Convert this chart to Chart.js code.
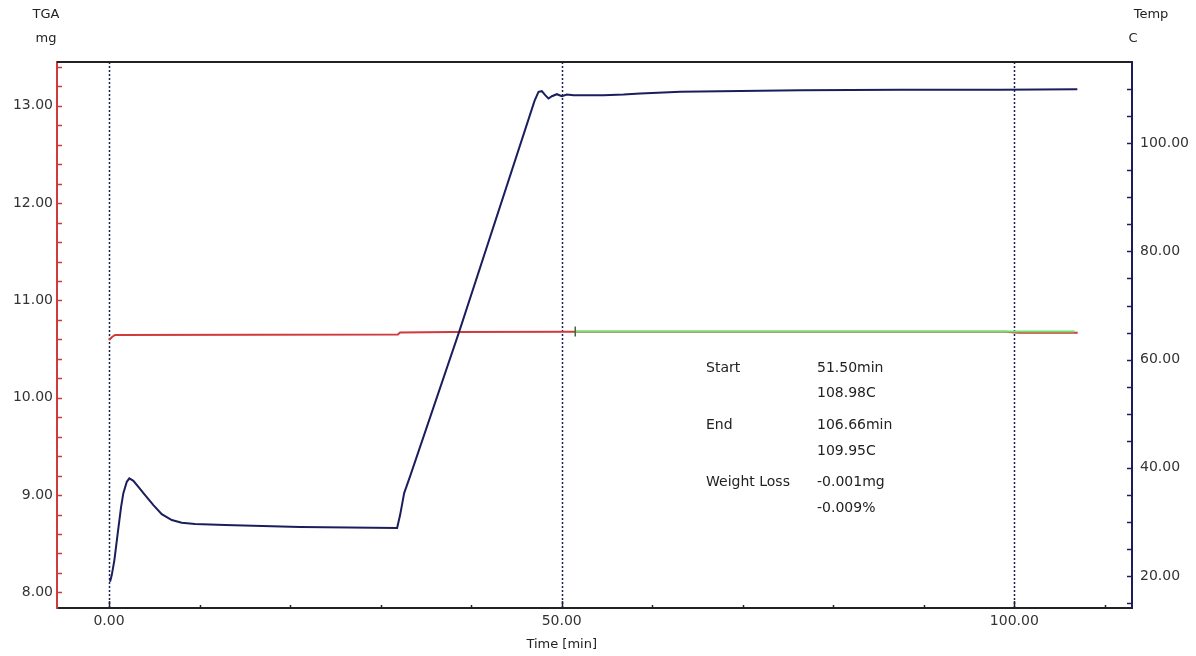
<!DOCTYPE html>
<html lang="en">
<head>
<meta charset="UTF-8">
<title>TGA / Temp vs Time</title>
<script src="https://cdn.jsdelivr.net/npm/chart.js"></script>
<style>
  html, body { margin: 0; padding: 0; background: #fff; }
  #wrap { width: 1196px; height: 656px; }
</style>
</head>
<body>
<div id="wrap"><canvas id="myChart"></canvas></div>
<script>
// Temperature trace, right axis (C)
const tempTime = [0.11, 0.30, 0.59, 0.96, 1.33, 1.58, 1.96, 2.24, 2.69, 3.24, 3.98, 4.90, 5.82, 6.93, 8.03, 9.50, 12.82, 21.1,
                  31.82, 32.15, 32.60, 33.26, 38.67, 47.0, 47.44, 47.81, 48.18, 48.54, 48.92, 49.47,
                  50.02, 50.57, 51.30, 54.62, 56.83, 58.67, 61.25, 63.09, 76.4, 87.4, 98.45, 106.96];
const tempC    = [18.95, 20.18, 22.96, 27.94, 32.80, 35.33, 37.42, 38.05, 37.61, 36.50, 34.97, 33.12, 31.45, 30.35, 29.85, 29.61, 29.42, 29.05,
                  28.87, 31.27, 35.33, 38.48, 65.14, 107.8, 109.48, 109.61, 108.87, 108.26, 108.68, 109.05,
                  108.68, 109.00, 108.87, 108.87, 109.00, 109.18, 109.37, 109.48, 109.79, 109.88, 109.88, 109.98];

// TGA weight trace, left axis (mg)
const tgaTime = [0.0, 0.33, 0.66, 31.9, 32.15, 37.9, 51.5, 99.0, 100.5, 107.0];
const tgaMg   = [10.594, 10.625, 10.645, 10.651, 10.671, 10.676, 10.679, 10.679, 10.667, 10.667];

// evaluated range (green)
const rangeTime = [51.50, 106.66];
const rangeMg   = [10.681, 10.680];

// axes
const xMajor = [0, 50, 100];
const mgMajor = [8, 9, 10, 11, 12, 13];
const tempMajor = [20, 40, 60, 80, 100];
const markerTimes = [0, 50, 100];
const xTitle = 'Time [min]';

// result box
const infoLabels = ['Start', '', 'End', '', 'Weight Loss', ''];
const infoValues = ['51.50min', '108.98C', '106.66min', '109.95C', '-0.001mg', '-0.009%'];

const NAVY = '#1b1e5c';
const RED = '#d03a3a';
const GREEN = '#6ee26e';
const FONT = 'DejaVu Sans';

function toPoints(xs, ys) {
    return xs.map((x, i) => ({ x: x, y: ys[i] }));
}

function stepTicks(from, to, step) {
    const out = [];
    const n = Math.round((to - from) / step);
    for (let i = 0; i <= n; i++) out.push({ value: +(from + i * step).toFixed(4) });
    return out;
}

function isMajor(v, list) {
    return list.some(m => Math.abs(m - v) < 1e-6);
}

// frame, inward tick marks, guide lines and texts
const framePlugin = {
    id: 'frame',
    beforeDatasetsDraw(chart) {
        const ctx = chart.ctx;
        const a = chart.chartArea;
        const xs = chart.scales.x;
        ctx.save();
        ctx.strokeStyle = NAVY;
        ctx.lineWidth = 1.5;
        ctx.setLineDash([2, 2]);
        markerTimes.forEach(t => {
            const px = Math.round(xs.getPixelForValue(t)) + 0.5;
            ctx.beginPath();
            ctx.moveTo(px, a.top);
            ctx.lineTo(px, a.bottom);
            ctx.stroke();
        });
        ctx.restore();
    },
    afterDraw(chart) {
        const ctx = chart.ctx;
        const a = chart.chartArea;
        const xs = chart.scales.x, yl = chart.scales.yMg, yr = chart.scales.yTemp;
        ctx.save();

        // top border
        ctx.strokeStyle = '#222';
        ctx.lineWidth = 2;
        ctx.beginPath();
        ctx.moveTo(a.left, a.top);
        ctx.lineTo(a.right, a.top);
        ctx.stroke();

        // inward ticks
        ctx.lineWidth = 1.5;
        ctx.strokeStyle = RED;
        yl.ticks.forEach(t => {
            const py = Math.round(yl.getPixelForValue(t.value)) + 0.5;
            ctx.beginPath();
            ctx.moveTo(a.left, py);
            ctx.lineTo(a.left + 5, py);
            ctx.stroke();
        });
        ctx.strokeStyle = NAVY;
        yr.ticks.forEach(t => {
            const py = Math.round(yr.getPixelForValue(t.value)) + 0.5;
            ctx.beginPath();
            ctx.moveTo(a.right - 5, py);
            ctx.lineTo(a.right, py);
            ctx.stroke();
        });
        ctx.strokeStyle = '#222';
        xs.ticks.forEach(t => {
            const px = Math.round(xs.getPixelForValue(t.value)) + 0.5;
            const len = isMajor(t.value, xMajor) ? 7 : 3;
            ctx.beginPath();
            ctx.moveTo(px, a.bottom);
            ctx.lineTo(px, a.bottom - len);
            ctx.stroke();
        });

        // axis headers and x title
        ctx.fillStyle = '#222';
        ctx.font = '13px ' + FONT;
        ctx.textAlign = 'center';
        ctx.textBaseline = 'middle';
        ctx.fillText('TGA', 46, 15);
        ctx.fillText('mg', 46, 39);
        ctx.fillText('Temp', 1151, 15);
        ctx.fillText('C', 1133, 39);
        ctx.fillText(xTitle, xs.getPixelForValue(50), 645);

        // result box
        ctx.font = '14px ' + FONT;
        ctx.textAlign = 'left';
        const rowsY = [368, 393, 425, 451, 482, 508];
        rowsY.forEach((y, i) => {
            if (infoLabels[i]) ctx.fillText(infoLabels[i], 706, y);
            ctx.fillText(infoValues[i], 817, y);
        });
        ctx.restore();
    }
};

const ctx = document.getElementById('myChart').getContext('2d');
const myChart = new Chart(ctx, {
    type: 'line',
    data: {
        datasets: [
            {
                label: 'Temp',
                data: toPoints(tempTime, tempC),
                yAxisID: 'yTemp',
                borderColor: NAVY,
                borderWidth: 2,
                pointRadius: 0,
                tension: 0,
                fill: false,
            },
            {
                label: 'Range',
                data: toPoints(rangeTime, rangeMg),
                yAxisID: 'yMg',
                borderColor: GREEN,
                borderWidth: 2,
                pointStyle: 'line',
                rotation: 90,
                pointRadius: c => (c.dataIndex === 0 ? 5 : 0),
                pointBorderColor: '#3c6a3c',
                pointBorderWidth: 1.5,
                tension: 0,
                fill: false,
            },
            {
                label: 'TGA',
                data: toPoints(tgaTime, tgaMg),
                yAxisID: 'yMg',
                borderColor: RED,
                borderWidth: 2,
                pointRadius: 0,
                tension: 0,
                fill: false,
            },
        ],
    },
    options: {
        responsive: true,
        maintainAspectRatio: false,
        animation: false,
        layout: { padding: { top: 62, right: 0, bottom: 0, left: 0 } },
        plugins: {
            legend: { display: false },
            tooltip: { enabled: false },
        },
        scales: {
            x: {
                type: 'linear',
                position: 'bottom',
                min: -5.75,
                max: 113,
                afterBuildTicks: s => { s.ticks = stepTicks(0, 110, 10); },
                afterFit: s => { s.height = 48; },
                ticks: {
                    autoSkip: false,
                    maxRotation: 0,
                    padding: 5,
                    color: '#333',
                    font: { family: FONT, size: 14 },
                    callback: v => (isMajor(v, xMajor) ? v.toFixed(2) : ''),
                },
                grid: { display: false, drawTicks: false },
                border: { display: true, color: '#222', width: 2 },
            },
            yMg: {
                type: 'linear',
                position: 'left',
                min: 7.84,
                max: 13.45,
                afterBuildTicks: s => { s.ticks = stepTicks(8, 13.4, 0.2); },
                afterFit: s => { s.width = 57; },
                ticks: {
                    autoSkip: false,
                    padding: 4,
                    color: '#333',
                    font: { family: FONT, size: 14 },
                    callback: v => (isMajor(v, mgMajor) ? v.toFixed(2) : ''),
                },
                grid: { display: false, drawTicks: false },
                border: { display: true, color: RED, width: 2 },
            },
            yTemp: {
                type: 'linear',
                position: 'right',
                min: 14.1,
                max: 115,
                afterBuildTicks: s => { s.ticks = stepTicks(15, 110, 5); },
                afterFit: s => { s.width = 64; },
                ticks: {
                    autoSkip: false,
                    padding: 8,
                    color: '#333',
                    font: { family: FONT, size: 14 },
                    callback: v => (isMajor(v, tempMajor) ? v.toFixed(2) : ''),
                },
                grid: { display: false, drawTicks: false },
                border: { display: true, color: NAVY, width: 2 },
            },
        },
    },
    plugins: [framePlugin],
});
</script>
</body>
</html>
